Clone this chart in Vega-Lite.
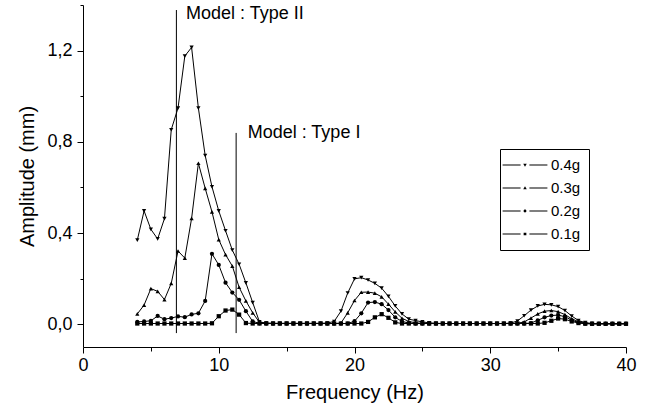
{
  "$schema": "https://vega.github.io/schema/vega-lite/v6.json",
  "width": 543,
  "height": 342,
  "autosize": "none",
  "padding": {"left": 83, "top": 5, "right": 30, "bottom": 69},
  "background": "white",
  "config": {
    "view": {"stroke": null},
    "font": "Liberation Sans",
    "axis": {
      "grid": false,
      "domainColor": "black",
      "domainWidth": 1,
      "tickColor": "black",
      "tickWidth": 1,
      "labelColor": "black",
      "titleColor": "black",
      "labelFont": "Liberation Sans",
      "titleFont": "Liberation Sans",
      "labelFontSize": 18,
      "titleFontSize": 20,
      "titleFontWeight": "normal",
      "labelOverlap": false,
      "labelFlush": false
    }
  },
  "datasets": {
    "curves": [
      {"f":4,"g":"0.4g","v":0.369},{"f":4.5,"g":"0.4g","v":0.497},{"f":5,"g":"0.4g","v":0.416},{"f":5.5,"g":"0.4g","v":0.374},{"f":6,"g":"0.4g","v":0.463},{"f":6.5,"g":"0.4g","v":0.853},{"f":7,"g":"0.4g","v":0.948},{"f":7.5,"g":"0.4g","v":1.176},{"f":8,"g":"0.4g","v":1.214},{"f":8.5,"g":"0.4g","v":0.948},{"f":9,"g":"0.4g","v":0.74},{"f":9.5,"g":"0.4g","v":0.603},{"f":10,"g":"0.4g","v":0.497},{"f":10.5,"g":"0.4g","v":0.41},{"f":11,"g":"0.4g","v":0.325},{"f":11.5,"g":"0.4g","v":0.263},{"f":12,"g":"0.4g","v":0.181},{"f":12.5,"g":"0.4g","v":0.095},{"f":13,"g":"0.4g","v":0.01},{"f":13.5,"g":"0.4g","v":0.005},{"f":14,"g":"0.4g","v":0.004},{"f":14.5,"g":"0.4g","v":0.004},{"f":15,"g":"0.4g","v":0.004},{"f":15.5,"g":"0.4g","v":0.004},{"f":16,"g":"0.4g","v":0.004},{"f":16.5,"g":"0.4g","v":0.004},{"f":17,"g":"0.4g","v":0.004},{"f":17.5,"g":"0.4g","v":0.004},{"f":18,"g":"0.4g","v":0.005},{"f":18.5,"g":"0.4g","v":0.012},{"f":19,"g":"0.4g","v":0.057},{"f":19.5,"g":"0.4g","v":0.137},{"f":20,"g":"0.4g","v":0.199},{"f":20.5,"g":"0.4g","v":0.204},{"f":21,"g":"0.4g","v":0.194},{"f":21.5,"g":"0.4g","v":0.179},{"f":22,"g":"0.4g","v":0.158},{"f":22.5,"g":"0.4g","v":0.122},{"f":23,"g":"0.4g","v":0.08},{"f":23.5,"g":"0.4g","v":0.045},{"f":24,"g":"0.4g","v":0.022},{"f":24.5,"g":"0.4g","v":0.016},{"f":25,"g":"0.4g","v":0.01},{"f":25.5,"g":"0.4g","v":0.006},{"f":26,"g":"0.4g","v":0.004},{"f":26.5,"g":"0.4g","v":0.003},{"f":27,"g":"0.4g","v":0.003},{"f":27.5,"g":"0.4g","v":0.003},{"f":28,"g":"0.4g","v":0.003},{"f":28.5,"g":"0.4g","v":0.003},{"f":29,"g":"0.4g","v":0.003},{"f":29.5,"g":"0.4g","v":0.003},{"f":30,"g":"0.4g","v":0.003},{"f":30.5,"g":"0.4g","v":0.003},{"f":31,"g":"0.4g","v":0.003},{"f":31.5,"g":"0.4g","v":0.005},{"f":32,"g":"0.4g","v":0.014},{"f":32.5,"g":"0.4g","v":0.037},{"f":33,"g":"0.4g","v":0.062},{"f":33.5,"g":"0.4g","v":0.08},{"f":34,"g":"0.4g","v":0.087},{"f":34.5,"g":"0.4g","v":0.085},{"f":35,"g":"0.4g","v":0.077},{"f":35.5,"g":"0.4g","v":0.06},{"f":36,"g":"0.4g","v":0.036},{"f":36.5,"g":"0.4g","v":0.016},{"f":37,"g":"0.4g","v":0.007},{"f":37.5,"g":"0.4g","v":0.003},{"f":38,"g":"0.4g","v":0.002},{"f":38.5,"g":"0.4g","v":0.002},{"f":39,"g":"0.4g","v":0.002},{"f":39.5,"g":"0.4g","v":0.002},{"f":40,"g":"0.4g","v":0.002},
      {"f":4,"g":"0.3g","v":0.045},{"f":4.5,"g":"0.3g","v":0.084},{"f":5,"g":"0.3g","v":0.156},{"f":5.5,"g":"0.3g","v":0.144},{"f":6,"g":"0.3g","v":0.108},{"f":6.5,"g":"0.3g","v":0.179},{"f":7,"g":"0.3g","v":0.321},{"f":7.5,"g":"0.3g","v":0.29},{"f":8,"g":"0.3g","v":0.464},{"f":8.5,"g":"0.3g","v":0.706},{"f":9,"g":"0.3g","v":0.596},{"f":9.5,"g":"0.3g","v":0.493},{"f":10,"g":"0.3g","v":0.371},{"f":10.5,"g":"0.3g","v":0.305},{"f":11,"g":"0.3g","v":0.255},{"f":11.5,"g":"0.3g","v":0.162},{"f":12,"g":"0.3g","v":0.102},{"f":12.5,"g":"0.3g","v":0.05},{"f":13,"g":"0.3g","v":0.008},{"f":13.5,"g":"0.3g","v":0.004},{"f":14,"g":"0.3g","v":0.003},{"f":14.5,"g":"0.3g","v":0.003},{"f":15,"g":"0.3g","v":0.003},{"f":15.5,"g":"0.3g","v":0.003},{"f":16,"g":"0.3g","v":0.003},{"f":16.5,"g":"0.3g","v":0.003},{"f":17,"g":"0.3g","v":0.003},{"f":17.5,"g":"0.3g","v":0.003},{"f":18,"g":"0.3g","v":0.003},{"f":18.5,"g":"0.3g","v":0.003},{"f":19,"g":"0.3g","v":0.005},{"f":19.5,"g":"0.3g","v":0.05},{"f":20,"g":"0.3g","v":0.104},{"f":20.5,"g":"0.3g","v":0.14},{"f":21,"g":"0.3g","v":0.141},{"f":21.5,"g":"0.3g","v":0.136},{"f":22,"g":"0.3g","v":0.12},{"f":22.5,"g":"0.3g","v":0.088},{"f":23,"g":"0.3g","v":0.054},{"f":23.5,"g":"0.3g","v":0.026},{"f":24,"g":"0.3g","v":0.012},{"f":24.5,"g":"0.3g","v":0.006},{"f":25,"g":"0.3g","v":0.004},{"f":25.5,"g":"0.3g","v":0.003},{"f":26,"g":"0.3g","v":0.003},{"f":26.5,"g":"0.3g","v":0.003},{"f":27,"g":"0.3g","v":0.003},{"f":27.5,"g":"0.3g","v":0.003},{"f":28,"g":"0.3g","v":0.003},{"f":28.5,"g":"0.3g","v":0.003},{"f":29,"g":"0.3g","v":0.003},{"f":29.5,"g":"0.3g","v":0.003},{"f":30,"g":"0.3g","v":0.003},{"f":30.5,"g":"0.3g","v":0.003},{"f":31,"g":"0.3g","v":0.003},{"f":31.5,"g":"0.3g","v":0.003},{"f":32,"g":"0.3g","v":0.004},{"f":32.5,"g":"0.3g","v":0.01},{"f":33,"g":"0.3g","v":0.027},{"f":33.5,"g":"0.3g","v":0.045},{"f":34,"g":"0.3g","v":0.057},{"f":34.5,"g":"0.3g","v":0.06},{"f":35,"g":"0.3g","v":0.055},{"f":35.5,"g":"0.3g","v":0.042},{"f":36,"g":"0.3g","v":0.024},{"f":36.5,"g":"0.3g","v":0.011},{"f":37,"g":"0.3g","v":0.004},{"f":37.5,"g":"0.3g","v":0.002},{"f":38,"g":"0.3g","v":0.002},{"f":38.5,"g":"0.3g","v":0.002},{"f":39,"g":"0.3g","v":0.002},{"f":39.5,"g":"0.3g","v":0.002},{"f":40,"g":"0.3g","v":0.002},
      {"f":4,"g":"0.2g","v":0.01},{"f":4.5,"g":"0.2g","v":0.012},{"f":5,"g":"0.2g","v":0.015},{"f":5.5,"g":"0.2g","v":0.036},{"f":6,"g":"0.2g","v":0.022},{"f":6.5,"g":"0.2g","v":0.027},{"f":7,"g":"0.2g","v":0.034},{"f":7.5,"g":"0.2g","v":0.031},{"f":8,"g":"0.2g","v":0.043},{"f":8.5,"g":"0.2g","v":0.048},{"f":9,"g":"0.2g","v":0.102},{"f":9.5,"g":"0.2g","v":0.309},{"f":10,"g":"0.2g","v":0.26},{"f":10.5,"g":"0.2g","v":0.182},{"f":11,"g":"0.2g","v":0.139},{"f":11.5,"g":"0.2g","v":0.107},{"f":12,"g":"0.2g","v":0.057},{"f":12.5,"g":"0.2g","v":0.012},{"f":13,"g":"0.2g","v":0.004},{"f":13.5,"g":"0.2g","v":0.003},{"f":14,"g":"0.2g","v":0.003},{"f":14.5,"g":"0.2g","v":0.003},{"f":15,"g":"0.2g","v":0.003},{"f":15.5,"g":"0.2g","v":0.003},{"f":16,"g":"0.2g","v":0.003},{"f":16.5,"g":"0.2g","v":0.003},{"f":17,"g":"0.2g","v":0.003},{"f":17.5,"g":"0.2g","v":0.003},{"f":18,"g":"0.2g","v":0.003},{"f":18.5,"g":"0.2g","v":0.003},{"f":19,"g":"0.2g","v":0.003},{"f":19.5,"g":"0.2g","v":0.003},{"f":20,"g":"0.2g","v":0.013},{"f":20.5,"g":"0.2g","v":0.048},{"f":21,"g":"0.2g","v":0.095},{"f":21.5,"g":"0.2g","v":0.097},{"f":22,"g":"0.2g","v":0.088},{"f":22.5,"g":"0.2g","v":0.062},{"f":23,"g":"0.2g","v":0.03},{"f":23.5,"g":"0.2g","v":0.012},{"f":24,"g":"0.2g","v":0.005},{"f":24.5,"g":"0.2g","v":0.003},{"f":25,"g":"0.2g","v":0.003},{"f":25.5,"g":"0.2g","v":0.003},{"f":26,"g":"0.2g","v":0.003},{"f":26.5,"g":"0.2g","v":0.003},{"f":27,"g":"0.2g","v":0.003},{"f":27.5,"g":"0.2g","v":0.003},{"f":28,"g":"0.2g","v":0.003},{"f":28.5,"g":"0.2g","v":0.003},{"f":29,"g":"0.2g","v":0.003},{"f":29.5,"g":"0.2g","v":0.003},{"f":30,"g":"0.2g","v":0.003},{"f":30.5,"g":"0.2g","v":0.003},{"f":31,"g":"0.2g","v":0.003},{"f":31.5,"g":"0.2g","v":0.003},{"f":32,"g":"0.2g","v":0.003},{"f":32.5,"g":"0.2g","v":0.003},{"f":33,"g":"0.2g","v":0.005},{"f":33.5,"g":"0.2g","v":0.017},{"f":34,"g":"0.2g","v":0.03},{"f":34.5,"g":"0.2g","v":0.038},{"f":35,"g":"0.2g","v":0.04},{"f":35.5,"g":"0.2g","v":0.033},{"f":36,"g":"0.2g","v":0.018},{"f":36.5,"g":"0.2g","v":0.007},{"f":37,"g":"0.2g","v":0.003},{"f":37.5,"g":"0.2g","v":0.002},{"f":38,"g":"0.2g","v":0.002},{"f":38.5,"g":"0.2g","v":0.002},{"f":39,"g":"0.2g","v":0.002},{"f":39.5,"g":"0.2g","v":0.002},{"f":40,"g":"0.2g","v":0.002},
      {"f":4,"g":"0.1g","v":0.003},{"f":4.5,"g":"0.1g","v":0.003},{"f":5,"g":"0.1g","v":0.003},{"f":5.5,"g":"0.1g","v":0.003},{"f":6,"g":"0.1g","v":0.003},{"f":6.5,"g":"0.1g","v":0.003},{"f":7,"g":"0.1g","v":0.003},{"f":7.5,"g":"0.1g","v":0.003},{"f":8,"g":"0.1g","v":0.003},{"f":8.5,"g":"0.1g","v":0.003},{"f":9,"g":"0.1g","v":0.003},{"f":9.5,"g":"0.1g","v":0.004},{"f":10,"g":"0.1g","v":0.035},{"f":10.5,"g":"0.1g","v":0.06},{"f":11,"g":"0.1g","v":0.064},{"f":11.5,"g":"0.1g","v":0.042},{"f":12,"g":"0.1g","v":0.005},{"f":12.5,"g":"0.1g","v":0.003},{"f":13,"g":"0.1g","v":0.003},{"f":13.5,"g":"0.1g","v":0.003},{"f":14,"g":"0.1g","v":0.003},{"f":14.5,"g":"0.1g","v":0.003},{"f":15,"g":"0.1g","v":0.003},{"f":15.5,"g":"0.1g","v":0.003},{"f":16,"g":"0.1g","v":0.003},{"f":16.5,"g":"0.1g","v":0.003},{"f":17,"g":"0.1g","v":0.003},{"f":17.5,"g":"0.1g","v":0.003},{"f":18,"g":"0.1g","v":0.003},{"f":18.5,"g":"0.1g","v":0.003},{"f":19,"g":"0.1g","v":0.003},{"f":19.5,"g":"0.1g","v":0.003},{"f":20,"g":"0.1g","v":0.003},{"f":20.5,"g":"0.1g","v":0.003},{"f":21,"g":"0.1g","v":0.01},{"f":21.5,"g":"0.1g","v":0.03},{"f":22,"g":"0.1g","v":0.044},{"f":22.5,"g":"0.1g","v":0.028},{"f":23,"g":"0.1g","v":0.008},{"f":23.5,"g":"0.1g","v":0.003},{"f":24,"g":"0.1g","v":0.003},{"f":24.5,"g":"0.1g","v":0.003},{"f":25,"g":"0.1g","v":0.003},{"f":25.5,"g":"0.1g","v":0.003},{"f":26,"g":"0.1g","v":0.003},{"f":26.5,"g":"0.1g","v":0.003},{"f":27,"g":"0.1g","v":0.003},{"f":27.5,"g":"0.1g","v":0.003},{"f":28,"g":"0.1g","v":0.003},{"f":28.5,"g":"0.1g","v":0.003},{"f":29,"g":"0.1g","v":0.003},{"f":29.5,"g":"0.1g","v":0.003},{"f":30,"g":"0.1g","v":0.003},{"f":30.5,"g":"0.1g","v":0.003},{"f":31,"g":"0.1g","v":0.003},{"f":31.5,"g":"0.1g","v":0.003},{"f":32,"g":"0.1g","v":0.003},{"f":32.5,"g":"0.1g","v":0.003},{"f":33,"g":"0.1g","v":0.003},{"f":33.5,"g":"0.1g","v":0.003},{"f":34,"g":"0.1g","v":0.006},{"f":34.5,"g":"0.1g","v":0.015},{"f":35,"g":"0.1g","v":0.025},{"f":35.5,"g":"0.1g","v":0.022},{"f":36,"g":"0.1g","v":0.012},{"f":36.5,"g":"0.1g","v":0.005},{"f":37,"g":"0.1g","v":0.002},{"f":37.5,"g":"0.1g","v":0.002},{"f":38,"g":"0.1g","v":0.002},{"f":38.5,"g":"0.1g","v":0.002},{"f":39,"g":"0.1g","v":0.002},{"f":39.5,"g":"0.1g","v":0.002},{"f":40,"g":"0.1g","v":0.002}
    ],
    "models": [
      {"f": 6.88, "v": -0.039, "v2": 1.378, "tf": 7.59, "tv": 1.36, "t": "Model : Type II"},
      {"f": 11.28, "v": -0.039, "v2": 0.839, "tf": 12.13, "tv": 0.839, "t": "Model : Type I"}
    ]
  },
  "encoding": {
    "x": {
      "field": "f",
      "type": "quantitative",
      "scale": {"domain": [0, 40], "nice": false, "zero": false},
      "axis": {
        "title": "Frequency (Hz)",
        "values": [0, 5, 10, 15, 20, 25, 30, 35, 40],
        "labelExpr": "datum.value % 10 === 0 ? datum.label : ''",
        "tickSize": {"condition": {"test": "datum.value % 10 === 0", "value": 6}, "value": 4},
        "labelPadding": 3,
        "titlePadding": 8
      }
    },
    "y": {
      "field": "v",
      "type": "quantitative",
      "scale": {"domain": [-0.1, 1.4], "nice": false, "zero": false},
      "axis": {
        "title": "Amplitude (mm)",
        "values": [0, 0.2, 0.4, 0.6, 0.8, 1.0, 1.2, 1.4],
        "labelExpr": "round(datum.value * 10) % 4 === 0 ? replace(format(datum.value, '.1f'), '.', ',') : ''",
        "tickSize": {"condition": {"test": "round(datum.value * 10) % 4 === 0", "value": 6}, "value": 3},
        "labelPadding": 5,
        "titlePadding": 9
      }
    }
  },
  "layer": [
    {
      "data": {"name": "models"},
      "mark": {"type": "rule", "color": "black", "strokeWidth": 1},
      "encoding": {"y2": {"field": "v2"}}
    },
    {
      "data": {"name": "models"},
      "mark": {"type": "text", "align": "left", "baseline": "middle", "fontSize": 18, "font": "Liberation Sans", "color": "black"},
      "encoding": {
        "x": {"field": "tf", "type": "quantitative"},
        "y": {"field": "tv", "type": "quantitative"},
        "text": {"field": "t"}
      }
    },
    {
      "data": {"name": "curves"},
      "mark": {"type": "line", "color": "black", "strokeWidth": 1},
      "encoding": {"detail": {"field": "g"}}
    },
    {
      "data": {"name": "curves"},
      "mark": {"type": "point", "filled": true, "color": "black", "opacity": 1, "size": 18},
      "encoding": {
        "shape": {
          "field": "g",
          "type": "nominal",
          "scale": {"domain": ["0.4g", "0.3g", "0.2g", "0.1g"], "range": ["triangle-down", "triangle-up", "circle", "square"]},
          "legend": null
        }
      }
    },
    {
      "data": {"name": "curves"},
      "mark": {"type": "point", "filled": true, "color": "black", "opacity": 0, "size": 4},
      "encoding": {
        "shape": {
          "field": "g",
          "type": "nominal",
          "scale": {
            "domain": ["0.4g", "0.3g", "0.2g", "0.1g"],
            "range": [
              "M-2.8,-0.065H-0.55V0.065H-2.8ZM0.55,-0.065H2.8V0.065H0.55ZM-0.22,-0.16H0.22L0,0.22Z",
              "M-2.8,-0.065H-0.55V0.065H-2.8ZM0.55,-0.065H2.8V0.065H0.55ZM-0.22,0.16H0.22L0,-0.22Z",
              "M-2.8,-0.065H-0.55V0.065H-2.8ZM0.55,-0.065H2.8V0.065H0.55ZM-0.18,0A0.18,0.18,0,1,0,0.18,0A0.18,0.18,0,1,0,-0.18,0Z",
              "M-2.8,-0.065H-0.55V0.065H-2.8ZM0.55,-0.065H2.8V0.065H0.55ZM-0.17,-0.17H0.17V0.17H-0.17Z"
            ]
          },
          "legend": {
            "title": null,
            "orient": "none",
            "legendX": 417,
            "legendY": 144,
            "strokeColor": "black",
            "padding": 8,
            "symbolSize": 256,
            "symbolStrokeWidth": 0,
            "symbolFillColor": "black",
            "symbolOpacity": 1,
            "symbolOffset": 9,
            "labelOffset": 18,
            "labelFont": "Liberation Sans",
            "labelFontSize": 15,
            "labelColor": "black",
            "rowPadding": 7
          }
        }
      }
    }
  ],
  "resolve": {"scale": {"shape": "independent"}}
}
